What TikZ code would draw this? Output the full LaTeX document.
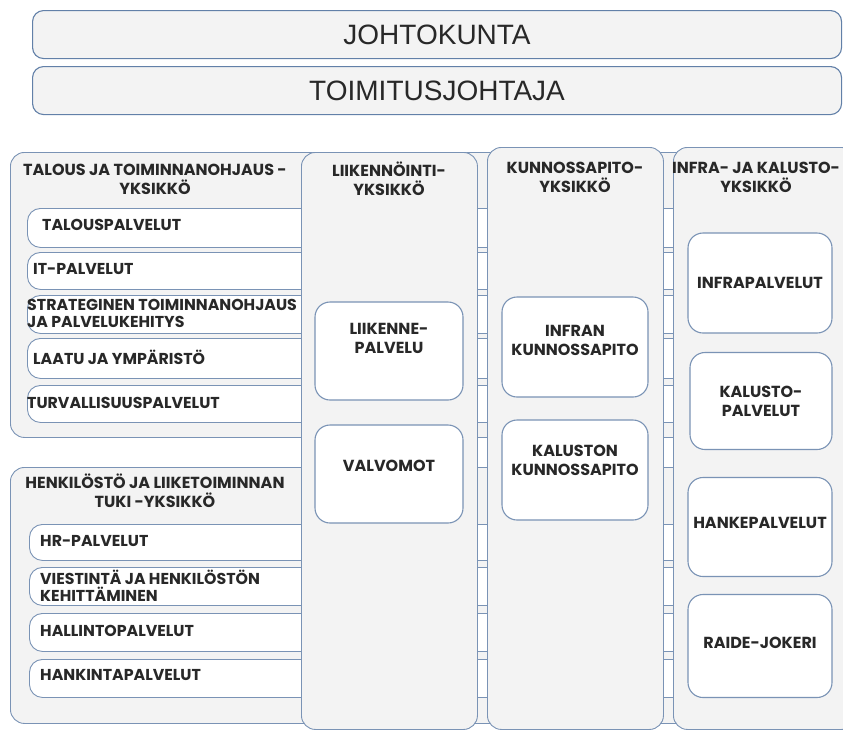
\documentclass[tikz,border=0pt]{standalone}
\usepackage{fontspec}
\setmainfont{Poppins}
\newfontfamily\boardfont{Liberation Sans}
\usepackage{xcolor}
\usetikzlibrary{positioning, calc}
\definecolor{edgeblue}{RGB}{98,128,168}
\definecolor{panelgray}{RGB}{243,243,243}
\definecolor{inkgray}{RGB}{40,40,40}
\tikzset{
  board/.style={draw=edgeblue, fill=panelgray, rounded corners=11pt, line width=1.1pt, minimum width=809pt, minimum height=48pt, anchor=north west, font=\boardfont\fontsize{28}{32}\selectfont, text=inkgray},
  panel/.style={draw=edgeblue!85, fill=panelgray, rounded corners=14pt, line width=0.9pt, anchor=north west},
  rowbox/.style={draw=edgeblue!85, fill=white, rounded corners=13pt, line width=0.9pt, anchor=north west, minimum width=663pt},
  innerbox/.style={draw=edgeblue!85, fill=white, rounded corners=15pt, line width=1.1pt},
  heading/.style={align=center, inner sep=0pt, font=\bfseries\fontsize{16}{19}\selectfont, text=inkgray},
  rowtext/.style={anchor=west, align=left, inner sep=0pt, font=\bfseries\fontsize{15.8}{17}\selectfont, text=inkgray}
}

\begin{document}
\begin{tikzpicture}[x=1pt, y=-1pt]
        \useasboundingbox[fill=white] (0,0) rectangle (843,731);

        % Board and CEO
        \node[board] (johto)    at (32,10) {JOHTOKUNTA};
        \node[board] (toimitus) at (32,66) {TOIMITUSJOHTAJA};

        % Left units, running behind the columns
        \node[panel, minimum width=680pt, minimum height=285pt] (talous) at (10,152) {};
        \node[heading] (taloustitle) at (155,179) {TALOUS JA TOIMINNANOHJAUS -\\YKSIKKÖ};
        \node[rowbox, minimum height=39pt] (taloupal) at (27,208) {};
        \node[rowbox, minimum height=37pt] (itpal)    at (27,252) {};
        \node[rowbox, minimum height=38pt] (strat)    at (27,295) {};
        \node[rowbox, minimum height=40pt] (laatu)    at (27,338) {};
        \node[rowbox, minimum height=37pt] (turva)    at (27,385) {};
        \node[rowtext] (taloupaltext) at ($(taloupal.west)+(15,-3)$) {TALOUSPALVELUT};
        \node[rowtext] (itpaltext)    at ($(itpal.west)+(6,-2)$)     {IT-PALVELUT};
        \node[rowtext] (strattext)    at ($(strat.west)+(0,-1)$)     {STRATEGINEN TOIMINNANOHJAUS\\JA PALVELUKEHITYS};
        \node[rowtext] (laatutext)    at ($(laatu.west)+(6,-1)$)     {LAATU JA YMPÄRISTÖ};
        \node[rowtext] (turvatext)    at ($(turva.west)+(0,-1)$)     {TURVALLISUUSPALVELUT};

        \node[panel, minimum width=680pt, minimum height=256pt] (henki) at (10,467) {};
        \node[heading] (henkititle) at (155,491) {HENKILÖSTÖ JA LIIKETOIMINNAN\\TUKI -YKSIKKÖ};
        \node[rowbox, minimum width=661pt, minimum height=36pt] (hrpal)    at (29,524) {};
        \node[rowbox, minimum width=661pt, minimum height=38pt] (viest)    at (29,567) {};
        \node[rowbox, minimum width=661pt, minimum height=38pt] (hallinto) at (29,613) {};
        \node[rowbox, minimum width=661pt, minimum height=38pt] (hankinta) at (29,659) {};
        \node[rowtext] (hrpaltext)    at ($(hrpal.west)+(11,-1)$)    {HR-PALVELUT};
        \node[rowtext] (viesttext)    at ($(viest.west)+(11,-1)$)    {VIESTINTÄ JA HENKILÖSTÖN\\KEHITTÄMINEN};
        \node[rowtext] (hallintotext) at ($(hallinto.west)+(11,-2)$) {HALLINTOPALVELUT};
        \node[rowtext] (hankintatext) at ($(hankinta.west)+(11,-3)$) {HANKINTAPALVELUT};

        % Columns
        \node[panel, minimum width=176pt, minimum height=577pt] (liik)  at (301,152) {};
        \node[panel, minimum width=176pt, minimum height=582pt] (kunn)  at (487,147) {};
        \node[panel, minimum width=182pt, minimum height=582pt] (infra) at (673,147) {};
        \node[heading] (liiktitle)  at (389,179) {LIIKENNÖINTI-\\YKSIKKÖ};
        \node[heading] (kunntitle)  at (575,177) {KUNNOSSAPITO-\\YKSIKKÖ};
        \node[heading] (infratitle) at (756,177) {INFRA- JA KALUSTO-\\YKSIKKÖ};

        % Services inside the columns
        \node[innerbox, minimum width=148pt, minimum height=98pt]  (liikpal) at (389,351) {};
        \node[innerbox, minimum width=148pt, minimum height=98pt]  (valvo)   at (389,474) {};
        \node[innerbox, minimum width=146pt, minimum height=100pt] (infkun)  at (575,347) {};
        \node[innerbox, minimum width=146pt, minimum height=100pt] (kalkun)  at (575,470) {};
        \node[innerbox, minimum width=144pt, minimum height=100pt] (infrap)  at (760,283) {};
        \node[innerbox, minimum width=142pt, minimum height=97pt]  (kalp)    at (761,401) {};
        \node[innerbox, minimum width=144pt, minimum height=99pt]  (hankep)  at (760,527) {};
        \node[innerbox, minimum width=144pt, minimum height=103pt] (raide)   at (760,646) {};
        \node[heading] (liikpaltext) at ($(liikpal.center)+(0,-13)$) {LIIKENNE-\\PALVELU};
        \node[heading] (valvotext)   at ($(valvo.center)+(0,-8)$)    {VALVOMOT};
        \node[heading] (infkuntext)  at ($(infkun.center)+(0,-7)$)   {INFRAN\\KUNNOSSAPITO};
        \node[heading] (kalkuntext)  at ($(kalkun.center)+(0,-10)$)  {KALUSTON\\KUNNOSSAPITO};
        \node[heading] (infraptext)  at (infrap.center)              {INFRAPALVELUT};
        \node[heading] (kalptext)    at (kalp.center)                {KALUSTO-\\PALVELUT};
        \node[heading] (hankeptext)  at ($(hankep.center)+(0,-4)$)   {HANKEPALVELUT};
        \node[heading] (raidetext)   at ($(raide.center)+(0,-3)$)    {RAIDE-JOKERI};
    \end{tikzpicture}
\end{document}
